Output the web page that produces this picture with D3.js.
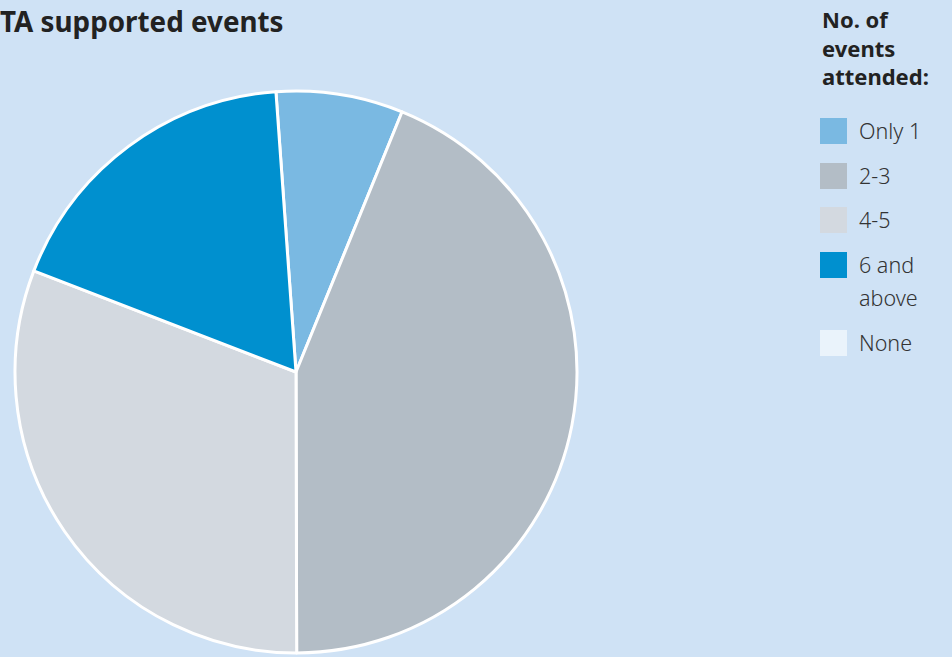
<!DOCTYPE html>
<html>
<head>
<meta charset="utf-8">
<script src="https://cdn.jsdelivr.net/npm/d3@7"></script>
<style>
	html, body { margin: 0; padding: 0; background: #cfe2f5; overflow: hidden; }
	svg { display: block; font-family: "Noto Sans", sans-serif; }
</style>
</head>
<body>
<div id="chart"></div>
<script>
// Chart data (share of respondents, %)
let categories = ['Only 1', '2-3', '4-5', '6 and above', 'None'];
let values = [7.3, 43.8, 30.9, 18.0, 0];
let colors = ['#7ab9e2', '#b3bdc6', '#d3d9e0', '#0090cf', '#eaf3fb'];
let titleText = 'TA supported events';
let legendTitle = ['No. of', 'events', 'attended:'];
let legendLines = [['Only 1'], ['2-3'], ['4-5'], ['6 and', 'above'], ['None']];

let width = 952;
let height = 657;
let cx = 296, cy = 372, R = 281; // pie placement
let startDeg = -4.1; // first slice starts just left of 12 o'clock

let svg = d3.select('#chart')
		.append('svg')
		.attr('width', width)
		.attr('height', height);

svg.append('rect')
		.attr('width', width)
		.attr('height', height)
		.attr('fill', '#cfe2f5');

// Title (clipped on the left in the original)
svg.append('text')
		.attr('x', 0)
		.attr('y', 32)
		.attr('font-size', 27.8)
		.attr('font-weight', 700)
		.attr('fill', '#222')
		.text(titleText);

// Pie
let color = d3.scaleOrdinal().domain(categories).range(colors);
let start = startDeg * Math.PI / 180;
let pie = d3.pie()
		.sort(null)
		.value(d => d.v)
		.startAngle(start)
		.endAngle(start + 2 * Math.PI);
let arc = d3.arc().innerRadius(0).outerRadius(R);

let data = categories.map((c, i) => ({ c: c, v: values[i] }));

svg.append('g')
		.attr('transform', `translate(${cx}, ${cy})`)
		.selectAll('path')
		.data(pie(data).filter(d => d.data.v > 0))
		.enter()
		.append('path')
		.attr('d', arc)
		.attr('fill', d => color(d.data.c))
		.attr('stroke', '#fff')
		.attr('stroke-width', 3)
		.attr('stroke-linejoin', 'round');

// Legend title
svg.append('g')
		.selectAll('text')
		.data(legendTitle)
		.enter()
		.append('text')
		.attr('x', 822)
		.attr('y', (d, i) => 28 + i * 28.5)
		.attr('font-size', 22)
		.attr('font-weight', 700)
		.attr('fill', '#222')
		.text(d => d);

// Legend items
let itemTop = [118, 163, 207, 252, 330];
let legend = svg.append('g')
		.selectAll('g')
		.data(categories)
		.enter()
		.append('g')
		.attr('transform', (d, i) => `translate(820, ${itemTop[i]})`);

legend.append('rect')
		.attr('width', 27)
		.attr('height', 26)
		.attr('fill', d => color(d));

legend.append('text')
		.attr('x', 39)
		.attr('y', 21)
		.attr('font-size', 21.5)
		.attr('font-weight', 300)
		.attr('fill', '#333')
		.selectAll('tspan')
		.data((d, i) => legendLines[i])
		.enter()
		.append('tspan')
		.attr('x', 39)
		.attr('dy', (d, i) => i === 0 ? 0 : 33)
		.text(d => d);
</script>
</body>
</html>
